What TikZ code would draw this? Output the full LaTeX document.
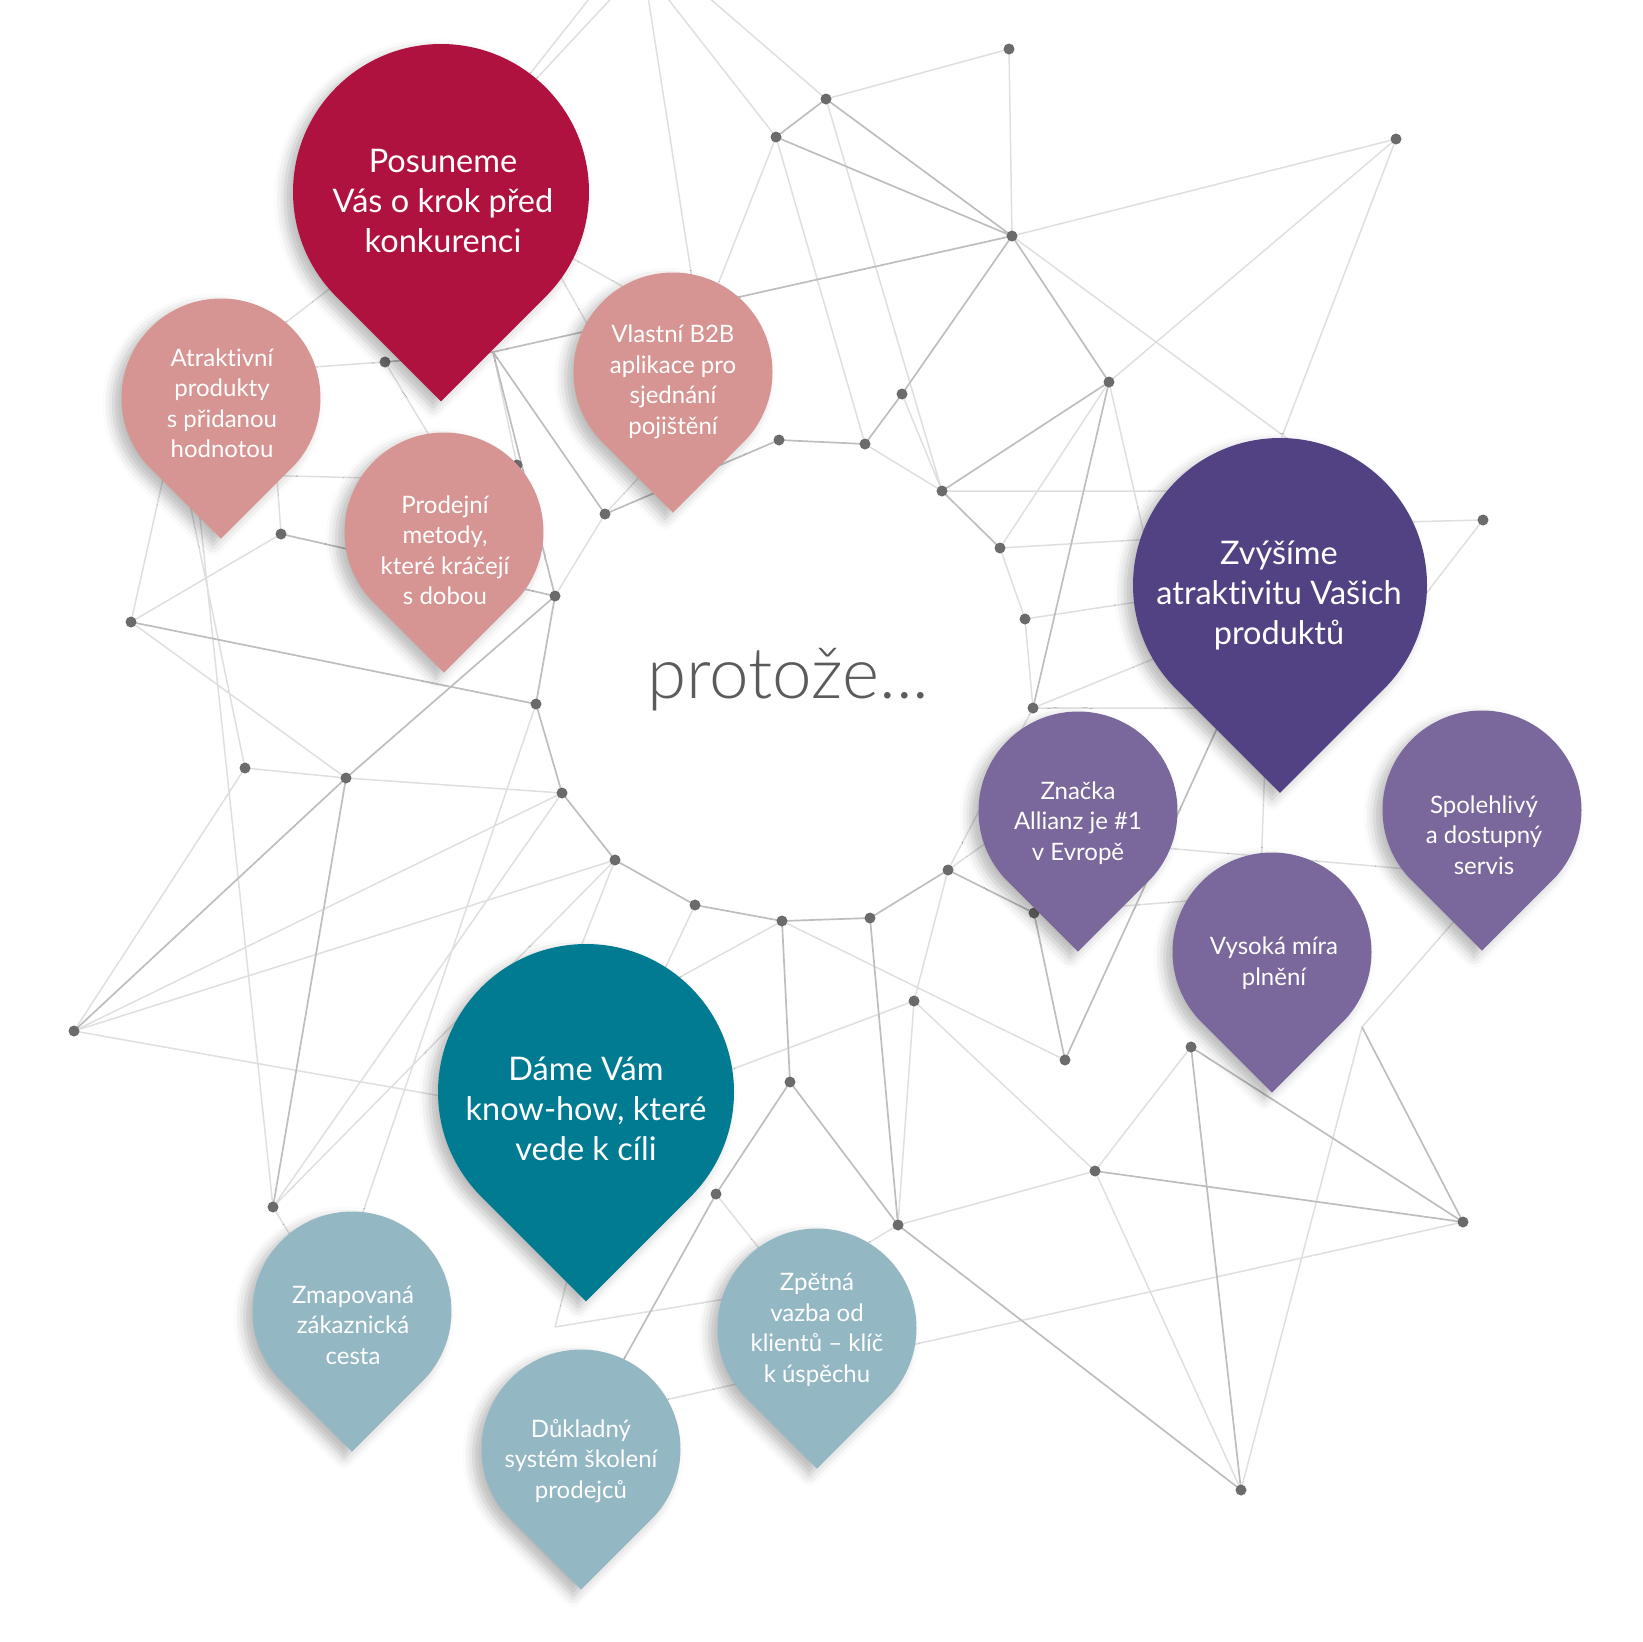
\documentclass[tikz,border=0pt]{standalone}
\usepackage{fontspec}
\setmainfont{Lato}[Ligatures=NoCommon]
\newfontfamily\lightfont{Lato Light}[Ligatures=NoCommon]
\usetikzlibrary{shadows.blur}

\definecolor{redbig}{HTML}{B0123F}
\definecolor{pinkpin}{HTML}{D69593}
\definecolor{purplebig}{HTML}{534283}
\definecolor{purplepin}{HTML}{7A679B}
\definecolor{tealbig}{HTML}{007B91}
\definecolor{bluepin}{HTML}{93B7C3}
\definecolor{dotgray}{HTML}{6B6B6B}
\definecolor{wiregray}{HTML}{BEBEBE}
\definecolor{wirelight}{HTML}{DFDFDF}
\definecolor{textgray}{HTML}{5B5B5B}

% pin: centre of the round part, radius, colour
\newcommand{\pin}[3]{%
  \fill[#3, pinshadow] (#1) ++(-45:#2) arc[start angle=-45, end angle=225, radius=#2] -- ++(-45:#2) -- cycle;}

\begin{document}
\begin{tikzpicture}[x=1pt, y=1pt,
  wire/.style={draw=wiregray, line width=1.7pt},
  wirelt/.style={draw=wirelight, line width=1.5pt},
  dot/.style={circle, fill=dotgray, inner sep=0pt, minimum size=11pt},
  pinshadow/.style={blur shadow={shadow xshift=-8pt, shadow yshift=-6pt, shadow blur radius=11pt, shadow opacity=28}},
  bigtext/.style={text=white, align=center, font=\fontsize{32.5}{40}\selectfont},
  smalltext/.style={text=white, align=center, font=\fontsize{24}{30.5}\selectfont}]

  \path[use as bounding box] (0,0) rectangle (1642,-1642);
  \clip (0,0) rectangle (1642,-1642);

  % network points
  \coordinate (a) at (1009,-49);
  \coordinate (b) at (826,-99);
  \coordinate (c) at (776,-137);
  \coordinate (d) at (1396,-139);
  \coordinate (e) at (1012,-236);
  \coordinate (f) at (1109,-382);
  \coordinate (g) at (902,-394);
  \coordinate (h) at (779,-440);
  \coordinate (i) at (865,-444);
  \coordinate (j) at (942,-491);
  \coordinate (k) at (1000,-548);
  \coordinate (l) at (1483,-520);
  \coordinate (m) at (1025,-619);
  \coordinate (n) at (1033,-708);
  \coordinate (o) at (385,-362);
  \coordinate (p) at (517,-465);
  \coordinate (q) at (605,-514);
  \coordinate (r) at (281,-534);
  \coordinate (s) at (131,-622);
  \coordinate (t) at (555,-596);
  \coordinate (u) at (536,-704);
  \coordinate (v) at (245,-768);
  \coordinate (w) at (346,-778);
  \coordinate (x) at (562,-793);
  \coordinate (y) at (615,-860);
  \coordinate (z) at (695,-905);
  \coordinate (A) at (782,-921);
  \coordinate (B) at (870,-918);
  \coordinate (C) at (948,-870);
  \coordinate (D) at (1034,-913);
  \coordinate (E) at (914,-1001);
  \coordinate (F) at (1065,-1060);
  \coordinate (G) at (1191,-1047);
  \coordinate (H) at (74,-1031);
  \coordinate (I) at (790,-1082);
  \coordinate (J) at (716,-1194);
  \coordinate (K) at (898,-1225);
  \coordinate (L) at (1095,-1171);
  \coordinate (M) at (1463,-1222);
  \coordinate (N) at (1241,-1490);
  \coordinate (O) at (273,-1207);

  % bends without a dot, and ends hidden behind the pins
  \coordinate (P0) at (493,-352);
  \coordinate (V1) at (555,-1327);
  \coordinate (V2) at (1362,-1027);
  \coordinate (top1) at (647,10);
  \coordinate (top2) at (661,10);
  \coordinate (top3) at (700,10);
  \coordinate (top4) at (596,10);
  \coordinate (top5) at (619,10);
  \coordinate (hR1) at (470,-150);
  \coordinate (hR2) at (540,-240);
  \coordinate (hR3) at (380,-250);
  \coordinate (hB1) at (700,-330);
  \coordinate (hB2) at (630,-400);
  \coordinate (hB3) at (655,-460);
  \coordinate (hA1) at (270,-370);
  \coordinate (hA2) at (250,-475);
  \coordinate (hA3) at (275,-450);
  \coordinate (hA4) at (165,-470);
  \coordinate (hA5) at (185,-480);
  \coordinate (hA6) at (195,-470);
  \coordinate (hA7) at (250,-350);
  \coordinate (hP1) at (450,-470);
  \coordinate (hP2) at (370,-478);
  \coordinate (hV1) at (1330,-470);
  \coordinate (hV2) at (1250,-520);
  \coordinate (hV3) at (1150,-560);
  \coordinate (hV4) at (1200,-491);
  \coordinate (hV5) at (1170,-538);
  \coordinate (hV6) at (1150,-600);
  \coordinate (hV7) at (1230,-708);
  \coordinate (hV8) at (1200,-640);
  \coordinate (hV9) at (1400,-522);
  \coordinate (hV10) at (1230,-700);
  \coordinate (hV11) at (1265,-760);
  \coordinate (hS0) at (1390,-640);
  \coordinate (hS1) at (1490,-880);
  \coordinate (hS2) at (1420,-870);
  \coordinate (hY1) at (1200,-900);
  \coordinate (hY6) at (1260,-900);
  \coordinate (hZ1) at (1060,-790);
  \coordinate (hZ2) at (1130,-845);
  \coordinate (hT1) at (520,-1110);
  \coordinate (hT2) at (560,-1000);
  \coordinate (hT3) at (620,-1010);
  \coordinate (hT4) at (650,-1000);
  \coordinate (hT5) at (650,-1100);
  \coordinate (hT6) at (575,-1250);
  \coordinate (hM1) at (350,-1250);
  \coordinate (hM2) at (330,-1300);
  \coordinate (hD1) at (590,-1420);
  \coordinate (hD2) at (620,-1410);
  \coordinate (hZp1) at (800,-1300);
  \coordinate (hZp2) at (780,-1290);
  \coordinate (hZp3) at (840,-1260);

  \draw[wirelt] (a) -- (b) (a) -- (e) (e) -- (d) (e) -- (hV1) (d) -- (hV2) (d) -- (f)
    (f) -- (k) (f) -- (hV3) (g) -- (j) (i) -- (j) (c) -- (i) (b) -- (j) (c) -- (hB1)
    (top1) -- (hB1) (top2) -- (c) (top3) -- (b) (top4) -- (hR1) (top5) -- (hR1)
    (j) -- (hV4) (k) -- (m) (m) -- (n) (k) -- (hV5) (m) -- (hV6) (n) -- (hV7) (n) -- (hV8)
    (l) -- (hV9) (l) -- (hS0) (P0) -- (p) (hR2) -- (hB1) (hR2) -- (hB2) (o) -- (hA1)
    (o) -- (hP1) (hA2) -- (hP2) (r) -- (s) (r) -- (hA3) (s) -- (w) (s) -- (hA4)
    (v) -- (w) (v) -- (H) (v) -- (hA5) (w) -- (x) (H) -- (x) (H) -- (y) (H) -- (hT1)
    (hA6) -- (O) (u) -- (hM1) (x) -- (O) (y) -- (O) (y) -- (hT2) (C) -- (E) (C) -- (hZ1)
    (A) -- (F) (A) -- (hT3) (z) -- (hT4) (D) -- (hY1) (E) -- (L) (E) -- (K) (E) -- (hT5)
    (J) -- (hZp1) (K) -- (L) (L) -- (N) (G) -- (L) (M) -- (hD2) (V2) -- (N) (V2) -- (hS1)
    (V1) -- (hZp2) (V1) -- (hT6) (K) -- (hZp3) (O) -- (hM2) (hZ2) -- (hS2) (hV11) -- (hY6)
    (n) -- (C) (q) -- (t) (q) -- (hB3) (hR3) -- (hA7);
  \draw[wire] (b) -- (c) (b) -- (e) (c) -- (e) (e) -- (f) (e) -- (g) (e) -- (P0)
    (f) -- (j) (f) -- (n) (g) -- (i) (i) -- (h) (h) -- (q) (j) -- (k)
    (P0) -- (o) (P0) -- (q) (P0) -- (t) (r) -- (t) (s) -- (u) (w) -- (t) (w) -- (O) (w) -- (H)
    (u) -- (x) (u) -- (t) (x) -- (y) (y) -- (z) (z) -- (A) (A) -- (B) (B) -- (C) (C) -- (D)
    (A) -- (I) (B) -- (K) (D) -- (F) (F) -- (hV10) (I) -- (J) (I) -- (K) (J) -- (hD1)
    (K) -- (N) (L) -- (M) (G) -- (M) (G) -- (N) (V2) -- (M);

  % the dots sit on top of the lines
  \foreach \pt in {a,b,c,d,e,f,g,h,i,j,k,l,m,n,o,p,q,r,s,t,u,v,w,x,y,z,A,B,C,D,E,F,G,H,I,J,K,L,M,N,O}
    \node[dot] (dot-\pt) at (\pt) {};

  % red group
  \coordinate (cPosuneme) at (441,-192);
  \coordinate (cAtraktivni) at (221,-398);
  \coordinate (cProdejni) at (444,-532);
  \coordinate (cVlastni) at (673,-372);
  \pin{cAtraktivni}{99.5}{pinkpin}
  \pin{cProdejni}{99.5}{pinkpin}
  \pin{cVlastni}{99.5}{pinkpin}
  \pin{cPosuneme}{148}{redbig}
  \node[bigtext] (posuneme) at (443,-201) {Posuneme\\Vás o krok před\\konkurenci};
  \node[smalltext] (atraktivni) at (222,-403) {Atraktivní\\produkty\\s přidanou\\hodnotou};
  \node[smalltext] (prodejni) at (445,-550) {Prodejní\\metody,\\které kráčejí\\s dobou};
  \node[smalltext] (vlastni) at (673,-382) {Vlastní B2B\\aplikace pro\\sjednání\\pojištění};

  % purple group
  \coordinate (cZvysime) at (1280,-585);
  \coordinate (cZnacka) at (1078,-811);
  \coordinate (cSpolehlivy) at (1482,-810);
  \coordinate (cVysoka) at (1272,-952);
  \pin{cZvysime}{147}{purplebig}
  \pin{cSpolehlivy}{99.5}{purplepin}
  \pin{cZnacka}{99.5}{purplepin}
  \pin{cVysoka}{99.5}{purplepin}
  \node[bigtext] (zvysime) at (1279,-596) {Zvýšíme\\atraktivitu Vašich\\produktů};
  \node[smalltext] (znacka) at (1078,-823) {Značka\\Allianz je \#1\\v Evropě};
  \node[smalltext] (spolehlivy) at (1484,-835) {Spolehlivý\\a dostupný\\servis};
  \node[smalltext] (vysoka) at (1274,-963) {Vysoká míra\\plnění};

  % teal group
  \coordinate (cDame) at (586,-1092);
  \coordinate (cZmapovana) at (352,-1311);
  \coordinate (cDukladny) at (581,-1449);
  \coordinate (cZpetna) at (817,-1328);
  \pin{cDame}{148}{tealbig}
  \pin{cZmapovana}{99.5}{bluepin}
  \pin{cDukladny}{99.5}{bluepin}
  \pin{cZpetna}{99.5}{bluepin}
  \node[bigtext] (dame) at (586,-1109) {Dáme Vám\\know-how, které\\vede k cíli};
  \node[smalltext] (zmapovana) at (353,-1325) {Zmapovaná\\zákaznická\\cesta};
  \node[smalltext] (dukladny) at (581,-1461) {Důkladný\\systém školení\\prodejců};
  \node[smalltext] (zpetna) at (817,-1330) {Zpětná\\vazba od\\klientů – klíč\\k úspěchu};

  \node[text=textgray, font=\lightfont\fontsize{71}{80}\selectfont, anchor=base] (protoze) at (788,-698) {protože...};
\end{tikzpicture}
\end{document}
